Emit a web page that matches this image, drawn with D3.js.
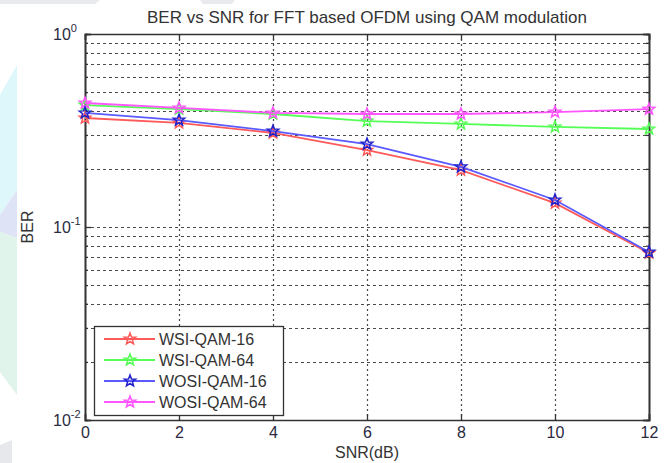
<!DOCTYPE html>
<html><head><meta charset="utf-8">
<script src="https://cdn.jsdelivr.net/npm/d3@7"></script>
<style>body{margin:0;background:#fff}svg{display:block}text{font-family:"Liberation Sans",Arial,sans-serif}</style>
</head><body><svg id="c" width="670" height="463"></svg>
<script>
const snr = [0, 2, 4, 6, 8, 10, 12];
const wsiQam16 = [0.367, 0.346, 0.307, 0.250, 0.197, 0.133, 0.0733];
const wsiQam64 = [0.428, 0.408, 0.385, 0.354, 0.342, 0.330, 0.322];
const wosiQam16 = [0.390, 0.358, 0.314, 0.269, 0.205, 0.138, 0.0742];
const wosiQam64 = [0.439, 0.414, 0.390, 0.385, 0.385, 0.394, 0.408];
const seriesNames = ["WSI-QAM-16", "WSI-QAM-64", "WOSI-QAM-16", "WOSI-QAM-64"];
const seriesColors = ["#ff5a5a", "#55ff55", "#5a5aff", "#ff55ff"];
const xTicks = [0, 2, 4, 6, 8, 10, 12];
const yMajor = [-2, -1, 0];
const title = "BER vs SNR for FFT based OFDM using QAM modulation";

const svg = d3.select("#c");
const L = 85, R = 649, T = 34, B = 420;
const x = d3.scaleLinear().domain([0, 12]).range([L, R]);
const y = d3.scaleLog().domain([0.01, 1]).range([B, T]);

// faint background decoration
const bg = svg.append("g");
bg.append("polygon").attr("points","0,95 17,65 17,190 0,215").attr("fill","#ddf7fb");
bg.append("polygon").attr("points","0,215 17,190 17,238 0,232").attr("fill","#dfe3f6");
bg.append("polygon").attr("points","0,232 17,238 17,395 0,372").attr("fill","#e0f4ec");
bg.append("polygon").attr("points","0,445 12,440 12,463 0,463").attr("fill","#e6e8ec");
bg.append("polygon").attr("points","0,0 100,0 95,4 0,4").attr("fill","#e8eaee");
bg.append("polygon").attr("points","200,0 235,0 232,4 203,4").attr("fill","#e8eaee");

// grid
const minor = [];
for (let e = -2; e < 0; e++) for (let m = 2; m <= 9; m++) minor.push(m * Math.pow(10, e));
const grid = svg.append("g").attr("stroke", "#4a4a4a").attr("stroke-width", 1.2).attr("stroke-dasharray", "3,3");
grid.selectAll(".hm").data(minor.concat([0.1])).enter().append("line")
  .attr("x1", L).attr("x2", R).attr("y1", d => Math.round(y(d)) + 0.5).attr("y2", d => Math.round(y(d)) + 0.5);
grid.selectAll(".v").data(xTicks.slice(1, -1)).enter().append("line")
  .attr("stroke-dasharray", "2,3")
  .attr("x1", d => Math.round(x(d)) + 0.5).attr("x2", d => Math.round(x(d)) + 0.5).attr("y1", T).attr("y2", B);

// axes (box with inward ticks)
const axisCol = "#333";
const xb = svg.append("g").attr("transform", `translate(0,${B})`)
  .call(d3.axisBottom(x).tickValues(xTicks).tickSize(-6).tickPadding(7).tickFormat(d3.format("d")));
const xt = svg.append("g").attr("transform", `translate(0,${T})`)
  .call(d3.axisTop(x).tickValues(xTicks).tickSize(-6).tickFormat(""));
const yl = svg.append("g").attr("transform", `translate(${L},0)`)
  .call(d3.axisLeft(y).tickValues(minor).tickSize(-3).tickFormat(""));
const yl2 = svg.append("g").attr("transform", `translate(${L},0)`)
  .call(d3.axisLeft(y).tickValues(yMajor.map(e => Math.pow(10, e))).tickSize(-6).tickFormat(""));
const yr = svg.append("g").attr("transform", `translate(${R},0)`)
  .call(d3.axisRight(y).tickValues(minor).tickSize(-3).tickFormat(""));
const yr2 = svg.append("g").attr("transform", `translate(${R},0)`)
  .call(d3.axisRight(y).tickValues(yMajor.map(e => Math.pow(10, e))).tickSize(-6).tickFormat(""));
[xb, xt, yl, yl2, yr, yr2].forEach(g => {
  g.selectAll("path").attr("stroke", axisCol).attr("stroke-width", 1.6);
  g.selectAll("line").attr("stroke", axisCol).attr("stroke-width", 1.3);
});
xb.selectAll("text").attr("font-size", 16).attr("fill", "#2a2a40").attr("font-family", '"Liberation Sans",Arial,sans-serif');

// y tick labels 10^e
yMajor.forEach(e => {
  const t = svg.append("text").attr("x", 53).attr("y", y(Math.pow(10, e)) + 6)
    .attr("font-size", 16).attr("fill", "#2a2a40");
  t.append("tspan").text("10");
  t.append("tspan").attr("dy", -8).attr("font-size", 11).text(String(e));
});

// title & labels
svg.append("text").attr("x", (L + R) / 2).attr("y", 23).attr("text-anchor", "middle")
  .attr("font-size", 17).attr("fill", "#333").text(title);
svg.append("text").attr("x", (L + R) / 2).attr("y", 458).attr("text-anchor", "middle")
  .attr("font-size", 16).attr("fill", "#333").text("SNR(dB)");
svg.append("text").attr("transform", `translate(33,${(T + B) / 2}) rotate(-90)`).attr("text-anchor", "middle")
  .attr("font-size", 16).attr("fill", "#333").text("BER");

// star path
function star(cx, cy, r) {
  const pts = [];
  for (let i = 0; i < 10; i++) {
    const a = -Math.PI / 2 + i * Math.PI / 5;
    const rr = i % 2 === 0 ? r : r * 0.42;
    pts.push([cx + rr * Math.cos(a), cy + rr * Math.sin(a)]);
  }
  return "M" + pts.map(p => p.join(",")).join("L") + "Z";
}

// series
const allSeries = [wsiQam16, wsiQam64, wosiQam16, wosiQam64];
const line = d3.line().x((d, i) => x(snr[i])).y(d => y(d));
const order = [1, 3, 0, 2];
order.forEach(k => {
  const vals = allSeries[k];
  svg.append("path").datum(vals).attr("d", line).attr("fill", "none")
    .attr("stroke", seriesColors[k]).attr("stroke-width", 1.8);
  svg.append("g").selectAll("path").data(vals).enter().append("path")
    .attr("d", (d, i) => star(x(snr[i]), y(d), 6))
    .attr("fill", "none").attr("stroke", k === 2 ? "#2222cc" : seriesColors[k]).attr("stroke-width", 1.5);
});

// legend
const lg = svg.append("g");
lg.append("rect").attr("x", 94.5).attr("y", 326.5).attr("width", 189).attr("height", 89)
  .attr("fill", "#fff").attr("stroke", "#333").attr("stroke-width", 1.3);
seriesNames.forEach((n, k) => {
  const yy = 339 + k * 21;
  lg.append("line").attr("x1", 104).attr("x2", 155).attr("y1", yy).attr("y2", yy)
    .attr("stroke", seriesColors[k]).attr("stroke-width", 1.8);
  lg.append("path").attr("d", star(130, yy, 6)).attr("fill", "none")
    .attr("stroke", k === 2 ? "#2222cc" : seriesColors[k]).attr("stroke-width", 1.5);
  lg.append("text").attr("x", 159).attr("y", yy + 6).attr("font-size", 16).attr("fill", "#333").text(n);
});
</script></body></html>
